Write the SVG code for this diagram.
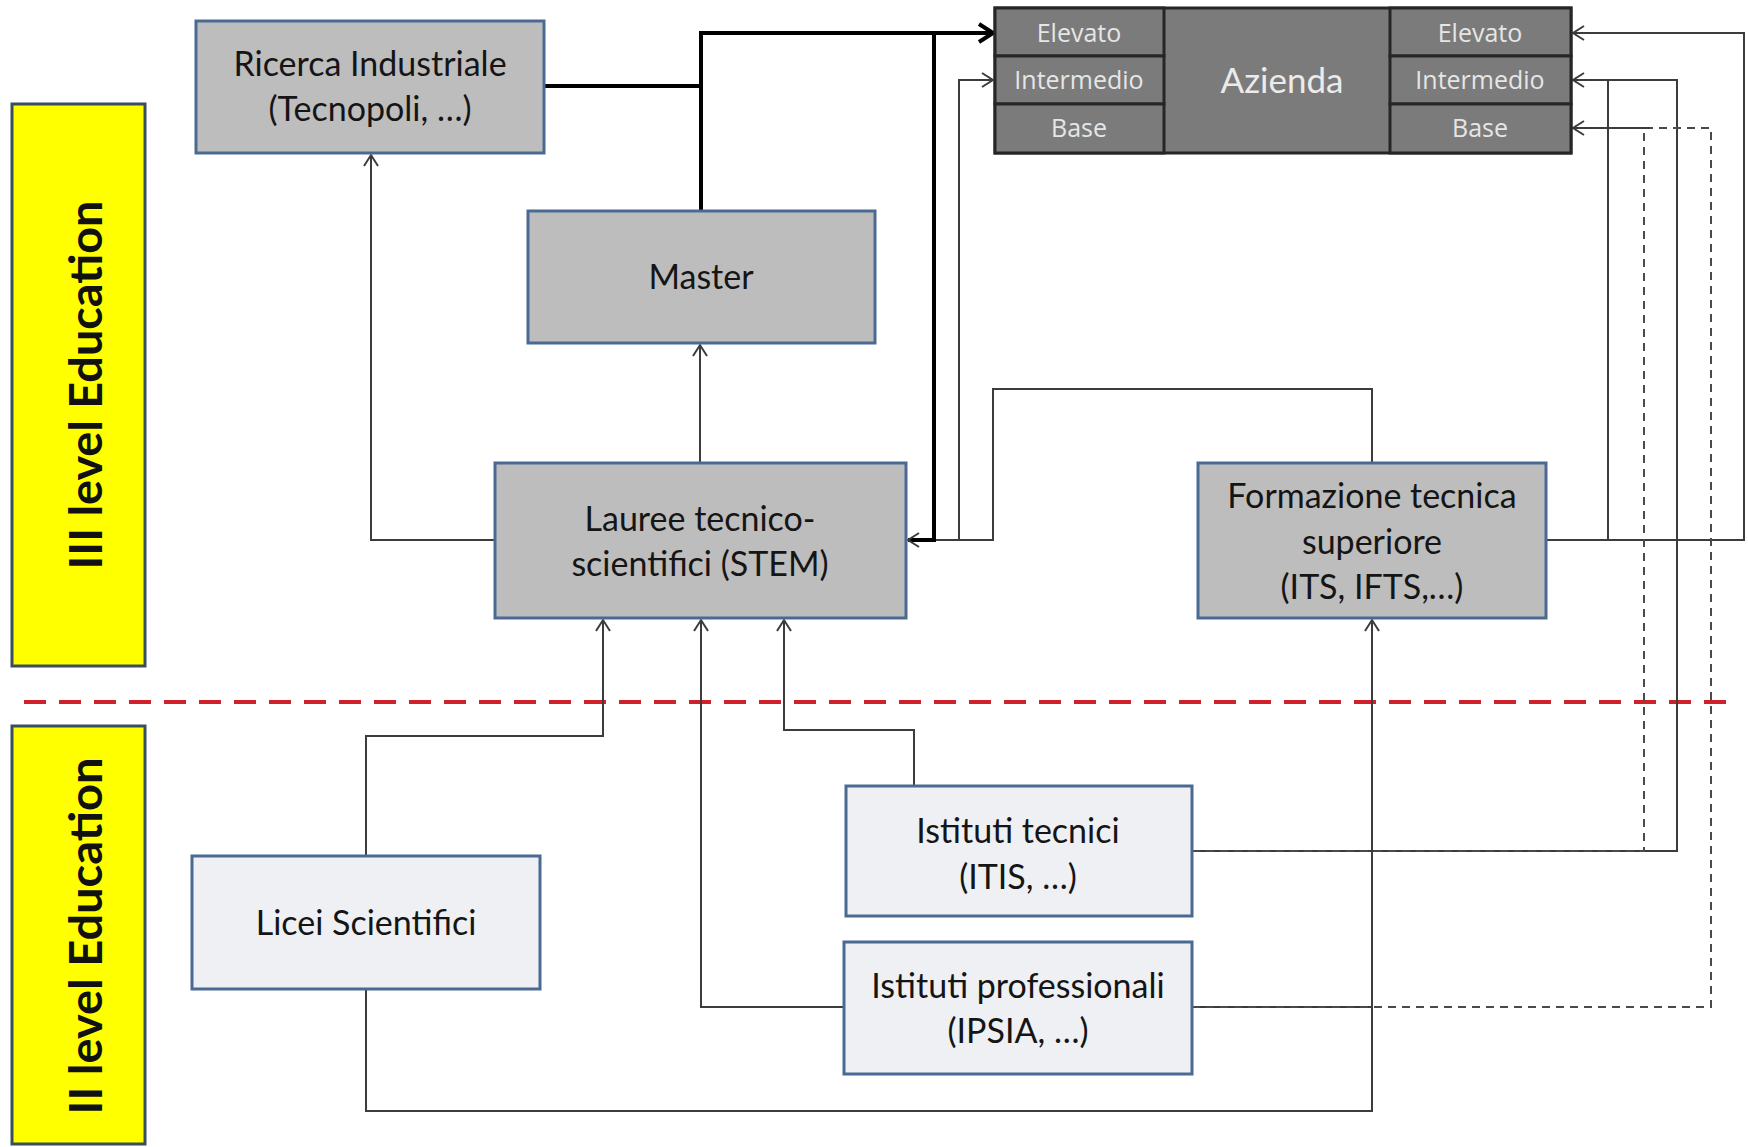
<svg xmlns="http://www.w3.org/2000/svg" width="1748" height="1147" viewBox="0 0 1748 1147">
<style>
.node{stroke:#4a6a94;stroke-width:3}
.dark{fill:#bdbdbd}
.light{fill:#eef0f3}
.t{font-family:Lato,"Liberation Sans",sans-serif;font-size:34px;fill:#151515;text-anchor:middle}
.cell{fill:#7b7b7b;stroke:#262626;stroke-width:3}
.ct{font-family:"Open Sans","Liberation Sans",sans-serif;font-size:25px;fill:#e6e6e6;text-anchor:middle}
.az{font-family:Lato,"Liberation Sans",sans-serif;font-size:35px;fill:#ebebeb;text-anchor:middle}
.band{fill:#ffff00;stroke:#3a4f5e;stroke-width:3}
.bt{font-family:Lato,"Liberation Sans",sans-serif;font-weight:bold;font-size:46px;fill:#111;text-anchor:middle}
.c{fill:none;stroke:#3c3c3c;stroke-width:2}
.cd{fill:none;stroke:#4a4a4a;stroke-width:2;stroke-dasharray:8 6}
.ck{fill:none;stroke:#000;stroke-width:4}
</style>
<defs>
<marker id="a" markerUnits="userSpaceOnUse" markerWidth="16" markerHeight="18" viewBox="0 0 16 18" refX="13" refY="9" orient="auto">
<path d="M2,2 L13,9 L2,16" fill="none" stroke="#3c3c3c" stroke-width="2"/>
</marker>
<marker id="ak" markerUnits="userSpaceOnUse" markerWidth="20" markerHeight="22" viewBox="0 0 20 22" refX="17" refY="11" orient="auto">
<path d="M3,2 L17,11 L3,20" fill="none" stroke="#000" stroke-width="4"/>
</marker>
</defs>
<rect width="1748" height="1147" fill="#ffffff"/>

<g id="band-III">
<rect class="band" x="12" y="104" width="133" height="562"/>
<text class="bt" transform="translate(102,385) rotate(-90)" textLength="369" lengthAdjust="spacingAndGlyphs">III level Education</text>
</g>
<g id="band-II">
<rect class="band" x="12" y="726" width="133" height="418"/>
<text class="bt" transform="translate(102,936) rotate(-90)" textLength="357" lengthAdjust="spacingAndGlyphs">II level Education</text>
</g>

<line x1="24" y1="702" x2="1728" y2="702" stroke="#d0202a" stroke-width="4" stroke-dasharray="22 13"/>

<g id="connectors">
<path class="c" d="M495,540 H371 V155" marker-end="url(#a)"/>
<path class="c" d="M700,463 V345" marker-end="url(#a)"/>
<path class="c" d="M366,856 V736 H603 V620" marker-end="url(#a)"/>
<path class="c" d="M914,786 V730 H784 V620" marker-end="url(#a)"/>
<path class="c" d="M843,1007 H701 V620" marker-end="url(#a)"/>
<path class="c" d="M366,989 V1111 H1372 V620" marker-end="url(#a)"/>
<path class="c" d="M1372,463 V389 H993 V540 H934"/>
<path class="c" d="M959,540 V80 H993" marker-end="url(#a)"/>
<path class="c" d="M1546,540 H1744 V33 H1573" marker-end="url(#a)"/>
<path class="c" d="M1608,540 V80"/>
<path class="c" d="M1192,851 H1677 V80 H1573" marker-end="url(#a)"/>
<path class="c" d="M1192,1007 H1372"/>
<path class="cd" d="M1192,851 H1644 V128 H1573" marker-end="url(#a)"/>
<path class="cd" d="M1192,1007 H1711 V128 H1644"/>
<path class="c" d="M1573,128 H1650"/>
<path class="ck" d="M701,211 V33 H993" marker-end="url(#ak)"/>
<path class="ck" d="M544,86 H701"/>
<path class="ck" d="M934,33 V540 H908" marker-end="url(#a)"/>
</g>

<g id="ricerca">
<rect class="node dark" x="196" y="21" width="348" height="132"/>
<text class="t" x="370" y="76">Ricerca Industriale</text>
<text class="t" x="370" y="121">(Tecnopoli, …)</text>
</g>
<g id="master">
<rect class="node dark" x="528" y="211" width="347" height="132"/>
<text class="t" x="701" y="289">Master</text>
</g>
<g id="lauree">
<rect class="node dark" x="495" y="463" width="411" height="155"/>
<text class="t" x="700" y="531">Lauree tecnico-</text>
<text class="t" x="700" y="576">scientifici (STEM)</text>
</g>
<g id="formazione">
<rect class="node dark" x="1198" y="463" width="348" height="155"/>
<text class="t" x="1372" y="508">Formazione tecnica</text>
<text class="t" x="1372" y="554">superiore</text>
<text class="t" x="1372" y="599">(ITS, IFTS,…)</text>
</g>
<g id="licei">
<rect class="node light" x="192" y="856" width="348" height="133"/>
<text class="t" x="366" y="935">Licei Scientifici</text>
</g>
<g id="istituti-tecnici">
<rect class="node light" x="846" y="786" width="346" height="130"/>
<text class="t" x="1018" y="843">Istituti tecnici</text>
<text class="t" x="1018" y="889">(ITIS, …)</text>
</g>
<g id="istituti-professionali">
<rect class="node light" x="844" y="942" width="348" height="132"/>
<text class="t" x="1018" y="998">Istituti professionali</text>
<text class="t" x="1018" y="1043">(IPSIA, …)</text>
</g>

<g id="azienda">
<rect class="cell" x="995" y="8" width="576" height="145"/>
<rect class="cell" x="995" y="8" width="169" height="48"/>
<rect class="cell" x="995" y="56" width="169" height="48"/>
<rect class="cell" x="995" y="104" width="169" height="49"/>
<rect class="cell" x="1390" y="8" width="181" height="48"/>
<rect class="cell" x="1390" y="56" width="181" height="48"/>
<rect class="cell" x="1390" y="104" width="181" height="49"/>
<text class="ct" x="1079" y="42">Elevato</text>
<text class="ct" x="1079" y="89">Intermedio</text>
<text class="ct" x="1079" y="137">Base</text>
<text class="az" x="1282" y="93">Azienda</text>
<text class="ct" x="1480" y="42">Elevato</text>
<text class="ct" x="1480" y="89">Intermedio</text>
<text class="ct" x="1480" y="137">Base</text>
</g>
</svg>
